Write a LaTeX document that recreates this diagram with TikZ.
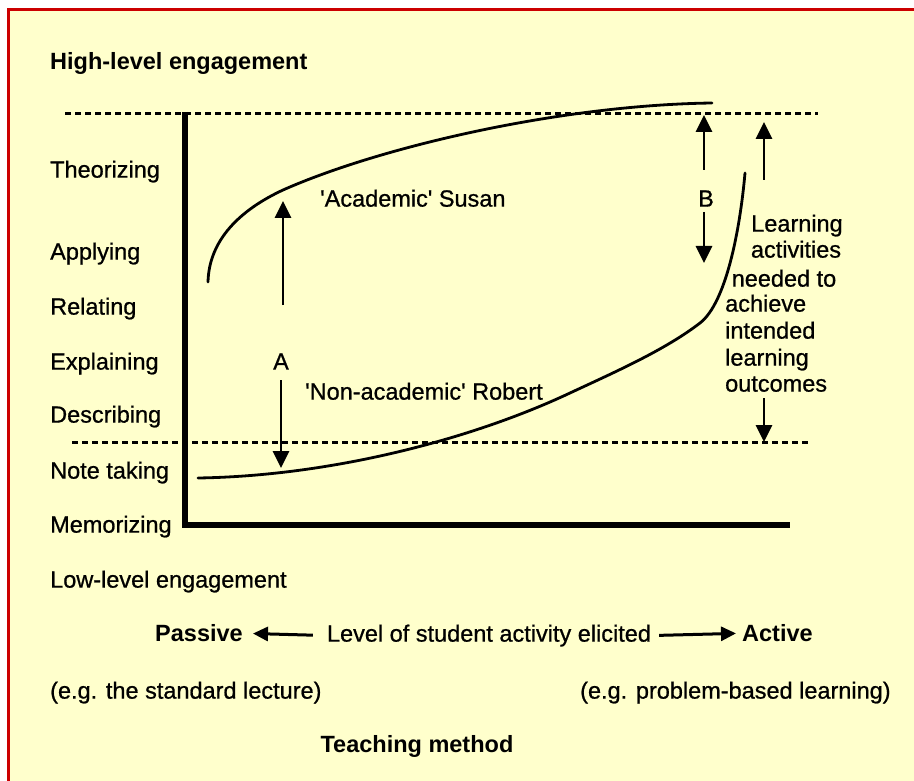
\documentclass[tikz,border=0pt]{standalone}
\usepackage{fontspec}
\setmainfont{Liberation Sans}
\usetikzlibrary{arrows.meta}
\definecolor{paper}{HTML}{FFFFCC}
\definecolor{frame}{HTML}{CC0000}
\begin{document}
\begin{tikzpicture}[x=1pt,y=-1pt,
  lbl/.style={inner sep=0pt, font=\fontsize{23.5}{28}\selectfont\addfontfeatures{FakeBold=0.8}},
  hdr/.style={inner sep=0pt, font=\fontsize{23.5}{28}\selectfont\bfseries},
  ax/.style={line width=5.5pt, line join=miter},
  guide/.style={line width=3pt, dash pattern=on 6pt off 4pt},
  curve/.style={line width=2.8pt, line cap=round},
  arr/.style={line width=2.8pt, -{Triangle[length=17pt,width=16pt]}},
  harr/.style={line width=3pt, -{Triangle[length=15pt,width=14pt]}}]

% page, panel and frame
\useasboundingbox (0,0) rectangle (914,781);
\fill[white] (0,0) rectangle (914,781);
\fill[paper] (8,10) rectangle (914,781);
\draw[frame, line width=3pt] (8,781) -- (8,10) -- (914,10);

% reference levels
\draw[guide] (65,114) -- (818,114);
\draw[guide] (72,442) -- (808,442);

% axes
\draw[ax] (185,112) -- (185,525) -- (790,525);

% level labels
\node[hdr, anchor=mid west] (high) at (50,67) {High-level engagement};
\node[lbl, anchor=mid west] (theo) at (50,175) {Theorizing};
\node[lbl, anchor=mid west] (appl) at (50,257) {Applying};
\node[lbl, anchor=mid west] (rela) at (50,312) {Relating};
\node[lbl, anchor=mid west] (expl) at (50,367) {Explaining};
\node[lbl, anchor=mid west] (desc) at (50,420) {Describing};
\node[lbl, anchor=mid west] (note) at (50,476) {Note taking};
\node[lbl, anchor=mid west] (memo) at (50,530) {Memorizing};
\node[lbl, anchor=mid west] (low) at (50,585) {Low-level engagement};

% student curves
\draw[curve] (208,282) .. controls (209,240) and (240,210) .. (283,190)
  .. controls (380,147) and (560,105) .. (712,103);
\draw[curve] (198,478) .. controls (330,476) and (470,440) .. (570,393)
  .. controls (615,372) and (665,350) .. (700,323)
  .. controls (726,303) and (740,230) .. (745,173);
\node[lbl, anchor=mid west] (susan) at (320,204) {\textquotesingle Academic\textquotesingle\ Susan};
\node[lbl, anchor=mid west] (robert) at (305,397) {\textquotesingle Non-academic\textquotesingle\ Robert};

% gap A
\node[lbl, anchor=mid] (A) at (281,367) {A};
\coordinate (Aupfrom) at (283,305);
\coordinate (Aupto) at (283,201);
\coordinate (Adnfrom) at (281,380);
\coordinate (Adnto) at (281,468);
\draw[arr] (Aupfrom) -- (Aupto);
\draw[arr] (Adnfrom) -- (Adnto);

% gap B
\node[lbl, anchor=mid] (B) at (706,204) {B};
\coordinate (Bupfrom) at (704,170);
\coordinate (Bupto) at (704,115);
\coordinate (Bdnfrom) at (704,212);
\coordinate (Bdnto) at (704,263);
\draw[arr] (Bupfrom) -- (Bupto);
\draw[arr] (Bdnfrom) -- (Bdnto);

% required range of learning activities
\node[lbl, anchor=mid] (t1) at (797,229) {Learning};
\node[lbl, anchor=mid] (t2) at (796,255) {activities};
\node[lbl, anchor=mid] (t3) at (784,284) {needed to};
\node[lbl, anchor=mid west] (t4) at (725,309) {achieve};
\node[lbl, anchor=mid west] (t5) at (725,336) {intended};
\node[lbl, anchor=mid west] (t6) at (725,363) {learning};
\node[lbl, anchor=mid west] (t7) at (725,389) {outcomes};
\coordinate (Rupfrom) at (764,180);
\coordinate (Rupto) at (764,122);
\coordinate (Rdnfrom) at (764,398);
\coordinate (Rdnto) at (764,442);
\draw[arr] (Rupfrom) -- (Rupto);
\draw[arr] (Rdnfrom) -- (Rdnto);

% teaching method scale
\node[hdr, anchor=mid west] (passive) at (155,639) {Passive};
\node[lbl, anchor=mid] (level) at (489,639) {Level of student activity elicited};
\node[hdr, anchor=mid west] (active) at (742,639) {Active};
\draw[harr, shorten <=14pt, shorten >=10pt] (level.west) -- (passive.east);
\draw[harr, shorten <=8pt, shorten >=6pt] (level.east) -- (active.west);
\node[lbl, anchor=mid west] (lecture) at (50,696) {(e.g. the standard lecture)};
\node[lbl, anchor=mid west] (pbl) at (580,696) {(e.g. problem-based learning)};
\node[hdr, anchor=mid] (method) at (417,750) {Teaching method};
\end{tikzpicture}
\end{document}
